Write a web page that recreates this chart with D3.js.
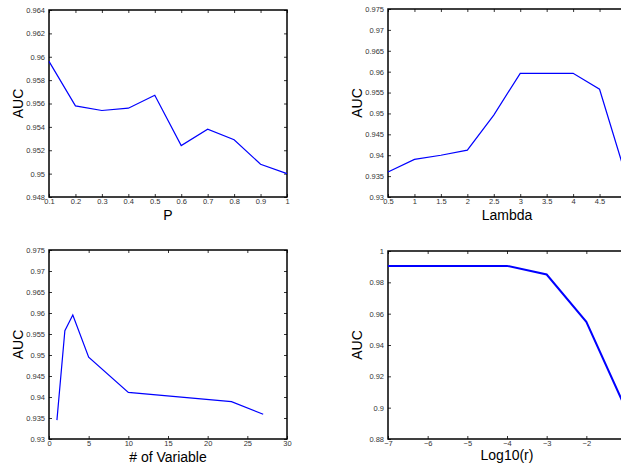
<!DOCTYPE html>
<html>
<head>
<meta charset="utf-8">
<script src="https://cdn.jsdelivr.net/npm/d3@7"></script>
<style>
  body { margin: 0; overflow: hidden; background: #fff; }
  svg { display: block; }
  .tick text { font-family: "Liberation Sans", Arial, sans-serif; font-size: 7.5px; fill: #333; }
  .label { font-family: "Liberation Sans", Arial, sans-serif; font-size: 14px; fill: #000; }
</style>
</head>
<body>
<svg id="chart"></svg>
<script>
// panel 1: AUC vs P
const pValues = [0.1, 0.2, 0.3, 0.4, 0.5, 0.6, 0.7, 0.8, 0.9, 1];
const pAUC = [0.9596, 0.9558, 0.9554, 0.9556, 0.9567, 0.9524, 0.9538, 0.9529, 0.9508, 0.9500];
const pTicksY = [0.948, 0.95, 0.952, 0.954, 0.956, 0.958, 0.96, 0.962, 0.964];

// panel 2: AUC vs Lambda
const lambdaValues = [0.5, 1, 1.5, 2, 2.5, 3, 3.5, 4, 4.5, 5];
const lambdaAUC = [0.9360, 0.9390, 0.9400, 0.9412, 0.9496, 0.9596, 0.9596, 0.9596, 0.9558, 0.9350];
const lambdaTicksX = [0.5, 1, 1.5, 2, 2.5, 3, 3.5, 4, 4.5, 5];

// panel 3: AUC vs number of variables
const varCounts = [1, 2, 3, 5, 10, 23, 27];
const varAUC = [0.9345, 0.9558, 0.9595, 0.9495, 0.9411, 0.9389, 0.9359];
const varTicksX = [0, 5, 10, 15, 20, 25, 30];

// panel 4: AUC vs log10(r)
const logR = [-7, -6, -5, -4, -3, -2, -1];
const logRAUC = [0.9905, 0.9905, 0.9905, 0.9905, 0.9850, 0.9548, 0.8990];

const aucTicks = [0.93, 0.935, 0.94, 0.945, 0.95, 0.955, 0.96, 0.965, 0.97, 0.975];
const logTicksY = [0.88, 0.9, 0.92, 0.94, 0.96, 0.98, 1];

const width = 621;
const height = 468;

const svg = d3.select('#chart')
  .attr('width', width)
  .attr('height', height);

// tick label like matlab: 0.96, 1, -7 with a real minus sign
const fmt = d => {
  const s = String(+d.toFixed(4));
  return d < 0 ? '\u2212' + s.slice(1) : s;
};

function drawPanel(opt) {
  const x = d3.scaleLinear().domain(opt.xDomain).range([opt.left, opt.right]);
  const y = d3.scaleLinear().domain(opt.yDomain).range([opt.bottom, opt.top]);

  const g = svg.append('g');

  // inward ticks on all four sides
  g.append('g')
    .attr('transform', `translate(0,${opt.bottom})`)
    .call(d3.axisBottom(x).tickValues(opt.xTicks).tickSize(-3).tickPadding(2).tickFormat(fmt));
  g.append('g')
    .attr('transform', `translate(0,${opt.top})`)
    .call(d3.axisTop(x).tickValues(opt.xTicks).tickSize(-3).tickFormat(''));
  g.append('g')
    .attr('transform', `translate(${opt.left},0)`)
    .call(d3.axisLeft(y).tickValues(opt.yTicks).tickSize(-3).tickPadding(4).tickFormat(fmt));
  g.append('g')
    .attr('transform', `translate(${opt.right},0)`)
    .call(d3.axisRight(y).tickValues(opt.yTicks).tickSize(-3).tickFormat(''));

  g.selectAll('.domain').remove();
  g.selectAll('.tick line').attr('stroke', '#000').attr('stroke-width', 0.8);

  // box
  g.append('rect')
    .attr('x', opt.left)
    .attr('y', opt.top)
    .attr('width', opt.right - opt.left)
    .attr('height', opt.bottom - opt.top)
    .attr('fill', 'none')
    .attr('stroke', '#000')
    .attr('stroke-width', 1.5);

  const line = d3.line()
    .x((d, i) => x(opt.xs[i]))
    .y(d => y(d));

  g.append('path')
    .datum(opt.ys)
    .attr('fill', 'none')
    .attr('stroke', '#0000ff')
    .attr('stroke-width', opt.lineWidth || 1.2)
    .attr('d', line);

  // labels
  g.append('text')
    .attr('class', 'label')
    .attr('text-anchor', 'middle')
    .attr('x', (opt.left + opt.right) / 2)
    .attr('y', opt.xLabelY)
    .text(opt.xLabel);

  g.append('text')
    .attr('class', 'label')
    .attr('text-anchor', 'middle')
    .attr('transform', `translate(${opt.left - 26},${(opt.top + opt.bottom) / 2}) rotate(-90)`)
    .text('AUC');
}

drawPanel({
  left: 49, right: 287, top: 10, bottom: 197,
  xDomain: [0.1, 1], yDomain: [0.948, 0.964],
  xTicks: pValues, yTicks: pTicksY,
  xs: pValues, ys: pAUC,
  xLabel: 'P', xLabelY: 220
});

drawPanel({
  left: 388, right: 626, top: 9, bottom: 197,
  xDomain: [0.5, 5], yDomain: [0.93, 0.975],
  xTicks: lambdaTicksX, yTicks: aucTicks,
  xs: lambdaValues, ys: lambdaAUC,
  xLabel: 'Lambda', xLabelY: 220
});

drawPanel({
  left: 49, right: 287, top: 250, bottom: 439,
  xDomain: [0, 30], yDomain: [0.93, 0.975],
  xTicks: varTicksX, yTicks: aucTicks,
  xs: varCounts, ys: varAUC,
  xLabel: '# of Variable', xLabelY: 462
});

drawPanel({
  left: 388, right: 626, top: 251, bottom: 439,
  xDomain: [-7, -1], yDomain: [0.88, 1],
  xTicks: logR, yTicks: logTicksY,
  xs: logR, ys: logRAUC,
  xLabel: 'Log10(r)', xLabelY: 460, lineWidth: 2
});
</script>
</body>
</html>
